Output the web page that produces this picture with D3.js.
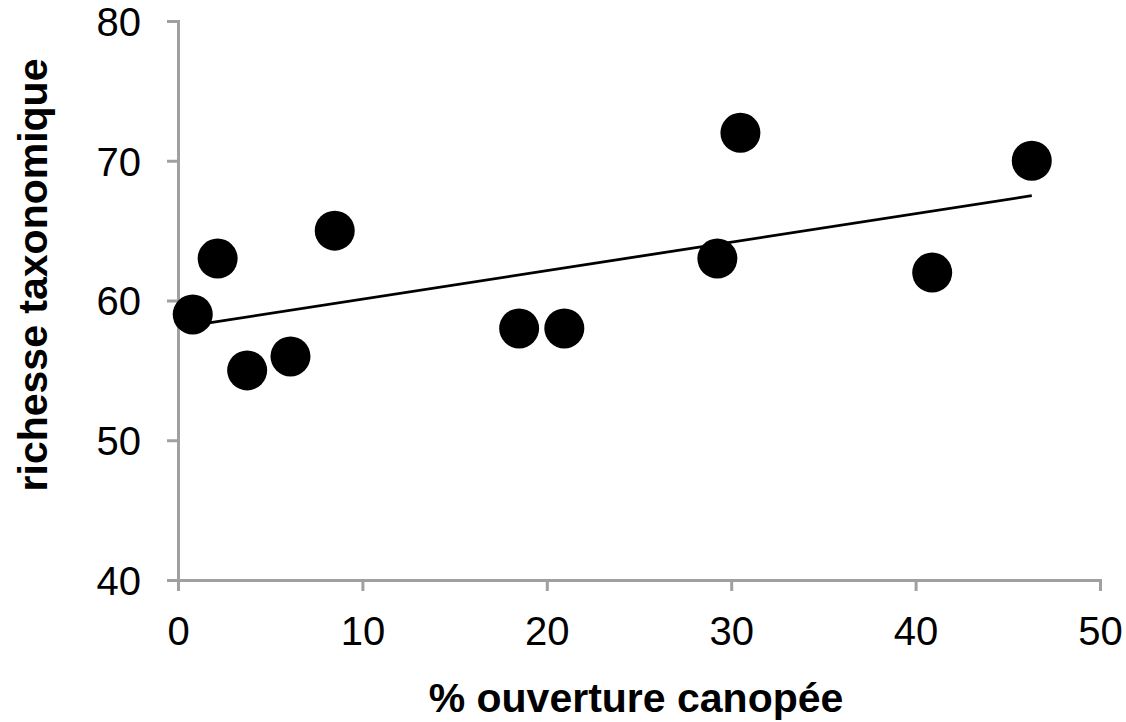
<!DOCTYPE html>
<html>
<head>
<meta charset="utf-8">
<script src="https://cdn.jsdelivr.net/npm/d3@7"></script>
<style>
  body { margin: 0; background: #fff; }
  svg { display: block; font-family: "Liberation Sans", Arial, sans-serif; }
  .axis path, .axis line { stroke: #a0a0a0; stroke-width: 3; }
  .axis text { font-size: 40px; fill: #000; }
  .title { font-size: 41px; font-weight: bold; fill: #000; }
</style>
</head>
<body>
<script>
// canopy openness (%) and taxonomic richness
const ouverture = [0.8, 2.15, 3.75, 6.1, 8.5, 18.5, 20.95, 29.25, 30.5, 40.9, 46.3];
const richesse = [59, 63, 55, 56, 65, 58, 58, 63, 72, 62, 70];
const xTicks = [0, 10, 20, 30, 40, 50];
const yTicks = [40, 50, 60, 70, 80];

const width = 1126,
  height = 722;
const margin = { top: 21, right: 26, bottom: 142, left: 178 };

const svg = d3
  .select("body")
  .append("svg")
  .attr("width", width)
  .attr("height", height);

const x = d3
  .scaleLinear()
  .domain([0, 50])
  .range([margin.left, width - margin.right]);

const y = d3
  .scaleLinear()
  .domain([40, 80])
  .range([height - margin.bottom, margin.top]);

// axes
svg
  .append("g")
  .attr("class", "axis")
  .attr("transform", `translate(0,${y(40)})`)
  .call(d3.axisBottom(x).tickValues(xTicks).tickSize(11).tickSizeOuter(0).tickPadding(26))
  .call((g) => g.selectAll("text").attr("dy", "0.7em"));

svg
  .append("g")
  .attr("class", "axis")
  .attr("transform", `translate(${x(0)},0)`)
  .call(d3.axisLeft(y).tickValues(yTicks).tickSize(11).tickSizeOuter(0).tickPadding(26))
  .call((g) => g.selectAll("text").attr("x", -37).attr("dy", "0.36em"));

svg.selectAll(".axis .domain").attr("stroke-linecap", "square");

// least squares trend line over the data range
const pts = ouverture.map((v, i) => [v, richesse[i]]);
const mx = d3.mean(ouverture),
  my = d3.mean(richesse);
const slope =
  d3.sum(pts, (p) => (p[0] - mx) * (p[1] - my)) /
  d3.sum(pts, (p) => (p[0] - mx) ** 2);
const intercept = my - slope * mx;
const xExt = d3.extent(ouverture);

svg
  .append("line")
  .attr("x1", x(xExt[0]))
  .attr("y1", y(intercept + slope * xExt[0]))
  .attr("x2", x(xExt[1]))
  .attr("y2", y(intercept + slope * xExt[1]))
  .attr("stroke", "#000")
  .attr("stroke-width", 2.8);

// points
svg
  .append("g")
  .selectAll("circle")
  .data(pts)
  .join("circle")
  .attr("cx", (d) => x(d[0]))
  .attr("cy", (d) => y(d[1]))
  .attr("r", 20)
  .attr("fill", "#000");

// axis titles
svg
  .append("text")
  .attr("class", "title")
  .attr("x", 636)
  .attr("y", 712)
  .attr("text-anchor", "middle")
  .text("% ouverture canopée");

svg
  .append("text")
  .attr("class", "title")
  .attr("transform", "translate(47,275) rotate(-90)")
  .attr("text-anchor", "middle")
  .text("richesse taxonomique");
</script>
</body>
</html>
